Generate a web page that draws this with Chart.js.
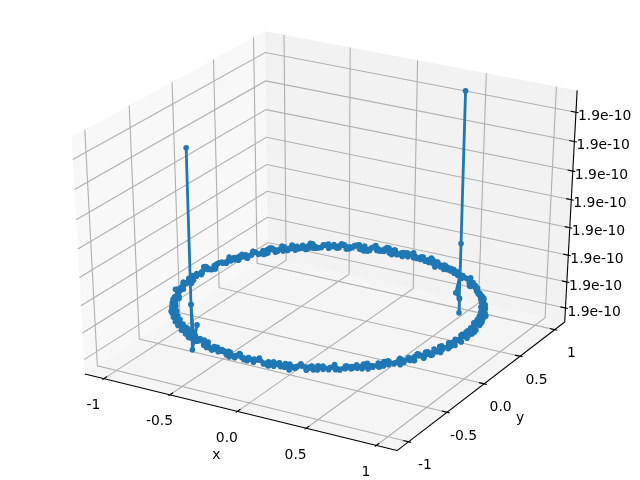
<!DOCTYPE html>
<html>
<head>
<meta charset="utf-8">
<style>
  html, body { margin: 0; padding: 0; background: #fff; }
  #c { display: block; }
</style>
<script src="https://cdn.jsdelivr.net/npm/chart.js@4"></script>
</head>
<body>
<canvas id="c" width="640" height="480"></canvas>
<script>
// series. z is relative, every tick prints as 1.9e-10
const seriesX = [
  .5,.48,.5,.5,.5,.5,.5,.5,
  .459,.400,.362,.303,.266,.201,.160,.098,.057,-.006,
  -.047,-.112,-.150,-.214,-.253,-.316,-.352,-.414,-.447,-.507,
  -.538,-.596,-.622,-.677,-.700,-.751,-.770,-.817,-.832,-.874,
  -.884,-.922,-.927,-.959,-.959,-.986,-.981,-1.003,-.992,-1.008,
  -.992,-1.003,-.981,-.985,-.959,-.958,-.927,-.921,-.884,-.873,
  -.832,-.816,-.770,-.750,-.700,-.676,-.622,-.595,-.538,
  -.5,-.5,-.47,-.49,-.5,-.5,-.5,-.5,
  -.507,-.447,-.414,-.351,-.316,-.252,-.215,-.149,-.112,-.045,.007,
  .045,.112,.149,.215,.252,.316,.351,.414,.447,.507,
  .538,.595,.622,.676,.700,.750,.770,.816,.832,.873,
  .884,.921,.927,.958,.959,.985,.981,1.002,.992,1.007,
  .992,1.002,.981,.985,.959,.958,.927,.921,.884,.873,
  .832,.816,.770,.750,.700,.676,.622,.595,.538,.5,
  .471,.437,.376,.341,.278,.240,.176,.138,.072,.032,
  -.020,-.085,-.125,-.190,-.227,-.291,-.328,-.391,-.425,-.485,
  -.516,-.574,-.603,-.657,-.682,-.733,-.754,-.801,-.818,-.861,
  -.873,-.912,-.918,-.952,-.953,-.981,-.977,-1.001,-.991,-1.012,
  -.994,-1.007,-.985,-.991,-.966,-.968,-.937,-.933,-.897,-.888,
  -.847,-.833,-.787,-.769,-.719,-.697,-.643,-.618,-.560,-.531,
  -.471,-.438,-.377,-.341,-.278,-.240,-.176,-.138,-.072,-.032,
  .032,.072,.138,.176,.240,.278,.341,.377,.438,.471,
  .531,.560,.618,.643,.697,.719,.769,.787,.833,.847,
  .888,.897,.933,.937,.968,.966,.991,.985,1.007,.994,
  1.012,.991,1.001,.977,.981,.953,.952,.918,.912,.873,
  .861,.818,.801,.754,.733,.682,.657,.603,.574,.516,.5,
  .477,.401,.345,.270,.212,.138,.071,0,-.071,-.138,
  -.212,-.271,-.345,-.401,-.478,-.525,-.597,-.632,-.702,-.732,
  -.804,-.821,-.876,-.883,-.944,-.940,-.980,-.970,-1.015,-.989,
  -1.014,-.980,-.997,-.960,-.970,-.910,-.908,-.856,-.844,-.776,
  -.752,-.688,-.656,-.577,-.538,-.462,-.411,-.339,-.282,-.204,
  -.141,-.069,0,.069,.140,.206,.282,.336,.413,.463,
  .536,.579,.656,.688,.750,.775,.844,.856,.910,.913,
  .970,.960,1.000,.977,1.009,.987,1.013,.970,.982,.941,
  .946,.884,.875,.819,.802,.732,.703,.637,.600,.520,
  .472,.436,.409,.372,.345,.306,.279,.239,.211,.171,.142,.102,.073,.032,.003,
  -.035,-.070,-.105,-.139,-.174,-.208,-.242,-.276,-.309,-.342,-.375,-.407,-.438,-.469,-.5,
  -.530,-.559,-.588,-.616,-.643,-.669,-.695,-.719,-.743,-.766,-.788,-.809,-.829,-.848,-.866,
  -.894,-.888,-.925,-.916,-.951,-.940,-.973,-.958,-.990,-.973,-1.002,-.983,-1.010,-.987,-1.012,
  -.987,-1.010,-.983,-1.002,-.973,-.990,-.958,-.973,-.940,-.951,-.916,-.925,-.888,-.894,-.856,
  -.858,-.819,-.819,-.779,-.775,-.734,-.728,-.687,-.677,-.635,-.623,-.581,-.566,-.524,-.506,
  -.469,-.438,-.407,-.375,-.342,-.309,-.276,-.242,-.208,-.174,-.139,-.105,-.070,-.035,0,
  .035,.070,.105,.139,.174,.208,.242,.276,.309,.342,.375,.407,.438,.469,.5,
  .530,.559,.588,.616,.643,.669,.695,.719,.743,.766,.788,.809,.829,.848,.866,
  .894,.888,.925,.916,.951,.940,.973,.958,.990,.973,1.002,.983,1.010,.987,1.012,
  .987,1.010,.983,1.002,.973,.990,.958,.973,.940,.951,.916,.925,.888,.894,.856,
  .858,.819,.819,.779,.775,.734,.728,.687,.677,.635,.623,.581,.566,.524
];
const seriesY = [
  .866,.85,.866,.866,.866,.866,.866,.866,
  .884,.921,.926,.958,.960,.985,.981,1.004,.992,1.007,
  .993,1.002,.981,.986,.959,.958,.927,.921,.884,.874,
  .832,.816,.770,.750,.700,.676,.622,.595,.538,.507,
  .447,.414,.351,.316,.252,.215,.149,.112,.045,.007,
  -.059,-.098,-.163,-.201,-.266,-.302,-.365,-.400,-.461,-.493,
  -.552,-.581,-.636,-.662,-.714,-.736,-.784,-.802,-.846,
  -.866,-.866,-.85,-.86,-.866,-.866,-.866,-.866,
  -.859,-.898,-.907,-.941,-.944,-.973,-.971,-.995,-.988,-1.006,-.993,
  -1.006,-.988,-.995,-.971,-.973,-.944,-.941,-.907,-.898,-.859,
  -.846,-.802,-.784,-.736,-.714,-.662,-.636,-.581,-.552,-.493,
  -.461,-.400,-.365,-.302,-.266,-.201,-.163,-.098,-.059,.007,
  .045,.112,.149,.215,.252,.316,.351,.414,.447,.507,
  .538,.595,.622,.676,.700,.750,.770,.816,.832,.866,
  .885,.896,.931,.936,.966,.964,.990,.984,1.006,.993,
  1.008,.990,.998,.975,.979,.951,.950,.916,.911,.871,
  .860,.816,.800,.752,.733,.680,.656,.601,.573,.514,
  .484,.424,.389,.326,.291,.226,.188,.124,.085,.020,
  -.020,-.085,-.124,-.188,-.226,-.291,-.326,-.389,-.424,-.484,
  -.514,-.573,-.601,-.656,-.680,-.733,-.752,-.800,-.816,-.860,
  -.871,-.911,-.916,-.950,-.951,-.979,-.975,-.998,-.990,-1.008,
  -.993,-1.006,-.984,-.990,-.964,-.966,-.936,-.931,-.896,-.885,
  -.845,-.831,-.786,-.767,-.717,-.695,-.642,-.616,-.559,-.529,
  -.470,-.437,-.375,-.341,-.277,-.240,-.174,-.138,-.070,-.032,
  .020,.085,.124,.188,.226,.291,.326,.389,.424,.484,
  .514,.573,.601,.656,.680,.733,.752,.800,.816,.860,.866,
  .899,.900,.949,.942,.998,.982,1.010,.983,1.013,.980,
  .998,.944,.948,.900,.901,.840,.821,.753,.726,.659,
  .628,.553,.506,.430,.382,.305,.244,.171,.107,.035,
  -.036,-.103,-.176,-.240,-.315,-.368,-.442,-.494,-.569,-.607,
  -.677,-.712,-.781,-.794,-.861,-.870,-.923,-.931,-.980,-.961,
  -1.002,-.986,-1.018,-.983,-1.000,-.968,-.980,-.923,-.928,-.872,
  -.858,-.797,-.781,-.712,-.676,-.606,-.569,-.494,-.443,-.369,
  -.315,-.240,-.177,-.103,-.035,.035,.107,.171,.245,.306,
  .383,.431,.505,.552,.627,.659,.728,.758,.825,.833,
  .880,.902,.911,.930,.937,.954,.958,.973,.975,.988,.987,.998,.995,1.002,.997,
  .999,.998,.995,.990,.985,.978,.970,.961,.951,.940,.927,.914,.899,.883,.866,
  .848,.829,.809,.788,.766,.743,.719,.695,.669,.643,.616,.588,.559,.530,.5,
  .475,.433,.412,.371,.346,.305,.279,.239,.210,.172,.141,.104,.071,.035,0,
  -.035,-.071,-.104,-.141,-.172,-.210,-.239,-.279,-.305,-.346,-.371,-.412,-.433,-.475,-.494,
  -.536,-.552,-.595,-.609,-.651,-.661,-.703,-.710,-.752,-.757,-.797,-.799,-.839,-.838,-.876,
  -.883,-.899,-.914,-.927,-.940,-.951,-.961,-.970,-.978,-.985,-.990,-.995,-.998,-.999,-1,
  -.999,-.998,-.995,-.990,-.985,-.978,-.970,-.961,-.951,-.940,-.927,-.914,-.899,-.883,-.866,
  -.848,-.829,-.809,-.788,-.766,-.743,-.719,-.695,-.669,-.643,-.616,-.588,-.559,-.530,-.5,
  -.475,-.433,-.412,-.371,-.346,-.305,-.279,-.239,-.210,-.172,-.141,-.104,-.071,-.035,0,
  .035,.071,.104,.141,.172,.210,.239,.279,.305,.346,.371,.412,.433,.475,.494,
  .536,.552,.595,.609,.651,.661,.703,.710,.752,.757,.797,.799,.839,.838
];
const seriesZ = [
  .145,.055,.025,-.05,.025,.305,1.05,.145,
  .148,.137,.155,.143,.151,.134,.157,.140,.153,.145,
  .136,.159,.142,.150,.133,.156,.144,.152,.138,.154,
  .141,.157,.135,.149,.146,.158,.137,.151,.143,.155,
  .134,.148,.156,.140,.152,.145,.137,.159,.142,.150,
  .135,.154,.147,.139,.157,.143,.133,.151,.156,.141,
  .148,.136,.158,.144,.153,.138,.150,.155,.142,
  .145,.075,.20,.12,.30,1.045,.30,.135,
  .152,.139,.157,.145,.134,.154,.142,.159,.137,.149,.146,
  .156,.140,.148,.135,.158,.143,.151,.133,.155,.147,
  .138,.153,.141,.157,.147,.135,.152,.144,.159,.139,
  .150,.136,.155,.142,.158,.145,.134,.153,.140,.148,
  .157,.137,.151,.143,.156,.135,.149,.154,.139,.146,
  .158,.141,.152,.136,.155,.144,.133,.150,.157,.145,
  .135,.156,.143,.132,.153,.161,.138,.149,.134,.157,
  .146,.131,.160,.141,.152,.136,.155,.133,.158,.144,
  .151,.137,.162,.140,.132,.154,.147,.159,.135,.150,
  .142,.156,.133,.161,.138,.148,.131,.153,.157,.140,
  .145,.134,.159,.151,.137,.155,.132,.143,.160,.149,
  .136,.158,.141,.154,.133,.162,.146,.138,.156,.131,
  .152,.140,.157,.135,.148,.161,.134,.143,.159,.150,
  .137,.155,.132,.158,.145,.141,.160,.133,.153,.139,
  .162,.136,.150,.156,.131,.144,.158,.138,.154,.142,
  .134,.160,.147,.132,.155,.140,.157,.149,.135,.161,
  .143,.153,.131,.159,.138,.151,.156,.133,.145,.158,
  .136,.162,.141,.148,.134,.154,.160,.137,.152,.132,.145,
  .134,.157,.146,.133,.155,.141,.159,.136,.151,.143,
  .158,.135,.149,.156,.138,.153,.132,.144,.158,.139,
  .152,.135,.156,.142,.133,.154,.148,.137,.157,.140,
  .150,.133,.155,.145,.159,.136,.152,.141,.134,.156,
  .147,.137,.158,.140,.153,.133,.151,.157,.139,.144,
  .135,.155,.143,.158,.136,.152,.132,.149,.157,.140,
  .154,.135,.146,.156,.138,.153,.134,.143,.158,.141,
  .150,.134,.156,.139,.154,.136,.147,.159,.137,.151,
  .133,.155,.142,.157,.135,.152,.145,.136,.156,.140,
  .154,.136,.153,.137,.155,.135,.153,.138,.154,.136,
  .155,.137,.153,.135,.154,.138,.155,.136,.153,.137,
  .154,.135,.155,.137,.153,.136,.154,.138,.155,.135,
  .153,.137,.154,.136,.155,.138,.153,.135,.154,.137,
  .155,.136,.153,.138,.154,.135,.155,.137,.153,.136,
  .154,.138,.155,.135,.153,.137,.154,.136,.155,.138,
  .153,.135,.154,.137,.155,.136,.153,.138,.154,.135,
  .155,.137,.153,.136,.154,.138,.155,.135,.153,.137,
  .154,.136,.155,.138,.153,.135,.154,.137,.155,.136,
  .153,.138,.154,.135,.155,.137,.153,.136,.154,.138,
  .155,.135,.153,.137,.154,.136,.155,.138,.153,.135,
  .154,.137,.155,.136,.153,.138,.154,.135,.155,.137,
  .153,.136,.154,.138,.155,.135,.153,.137,.154,.136,
  .155,.138,.153,.135,.154,.137,.155,.136,.153,.138,
  .154,.135,.155,.137,.153,.136,.154,.138,.155,.135,
  .153,.137,.154,.136,.155,.138,.153,.135,.154,.137,
  .155,.136,.153,.138,.154,.135,.155,.137,.153
];

const xyTicks = [-1, -0.5, 0, 0.5, 1];
const xyTickLabels = ["-1", "-0.5", "0.0", "0.5", "1"];
const zTicks = [0, .134, .27, .408, .547, .687, .83, .97];
const zTickLabels = ["1.9e-10", "1.9e-10", "1.9e-10", "1.9e-10", "1.9e-10", "1.9e-10", "1.9e-10", "1.9e-10"];

// limits and the slightly larger pane box around them
const xyLim = 1.1, zMin = -.05, zMax = 1.05;
const xyPane = xyLim + 2 * xyLim / 48;
const zPad = (zMax - zMin) / 48;
const zLo = zMin - zPad, zHi = zMax + zPad;

// same camera as a default 3d plot: elev 30, azim -60, dist 10, unit cube
const elev = 30 * Math.PI / 180, azim = -60 * Math.PI / 180, dist = 10;
const w = [Math.cos(elev) * Math.cos(azim), Math.cos(elev) * Math.sin(azim), Math.sin(elev)];
const u = [-Math.sin(azim), Math.cos(azim), 0];
const v = [w[1] * u[2] - w[2] * u[1], w[2] * u[0] - w[0] * u[2], w[0] * u[1] - w[1] * u[0]];

function project(x, y, z) {
  const p = [(x + xyLim) / (2 * xyLim) - .5, (y + xyLim) / (2 * xyLim) - .5, (z - zMin) / (zMax - zMin) - .5];
  const dot = a => a[0] * p[0] + a[1] * p[1] + a[2] * p[2];
  const d = dist - dot(w);
  return { x: dot(u) / d, y: dot(v) / d };
}

function line3d(pts, color, width, order) {
  return {
    data: pts.map(p => project(p[0], p[1], p[2])),
    showLine: true, borderColor: color, borderWidth: width,
    pointRadius: 0, fill: false, tension: 0, order: order
  };
}
function pane(pts, color) {
  return {
    data: pts.map(p => project(p[0], p[1], p[2])),
    showLine: true, borderWidth: 0, borderColor: "transparent",
    backgroundColor: color, pointRadius: 0, fill: "shape", tension: 0, order: 5
  };
}

const gridColor = "#b0b0b0";
const datasets = [];

datasets.push({
  data: seriesX.map((x, i) => project(x, seriesY[i], seriesZ[i])),
  showLine: true, borderColor: "#1f77b4", backgroundColor: "#1f77b4",
  borderWidth: 2.8, borderJoinStyle: "round", borderCapStyle: "round",
  pointRadius: 2.8, pointBorderWidth: 0, tension: 0, order: 0
});

datasets.push(pane([[-xyPane, -xyPane, zLo], [-xyPane, xyPane, zLo], [-xyPane, xyPane, zHi], [-xyPane, -xyPane, zHi], [-xyPane, -xyPane, zLo]], "rgba(242,242,242,0.5)"));
datasets.push(pane([[-xyPane, xyPane, zLo], [xyPane, xyPane, zLo], [xyPane, xyPane, zHi], [-xyPane, xyPane, zHi], [-xyPane, xyPane, zLo]], "rgba(230,230,230,0.5)"));
datasets.push(pane([[-xyPane, -xyPane, zLo], [xyPane, -xyPane, zLo], [xyPane, xyPane, zLo], [-xyPane, xyPane, zLo], [-xyPane, -xyPane, zLo]], "rgba(236,236,236,0.5)"));

xyTicks.forEach(t => {
  datasets.push(line3d([[t, -xyPane, zLo], [t, xyPane, zLo], [t, xyPane, zHi]], gridColor, 1.1, 2));
  datasets.push(line3d([[xyPane, t, zLo], [-xyPane, t, zLo], [-xyPane, t, zHi]], gridColor, 1.1, 2));
  // tick marks on the outer edges
  datasets.push(line3d([[t, -xyPane + .037, zLo], [t, -xyPane - .018, zLo]], "#000", 1.1, 1));
  datasets.push(line3d([[xyPane - .037, t, zLo], [xyPane + .018, t, zLo]], "#000", 1.1, 1));
});
zTicks.forEach(t => {
  datasets.push(line3d([[-xyPane, -xyPane, t], [-xyPane, xyPane, t], [xyPane, xyPane, t]], gridColor, 1.1, 2));
  datasets.push(line3d([[xyPane - .037, xyPane, t], [xyPane + .018, xyPane, t]], "#000", 1.1, 1));
});
datasets.push(line3d([[-xyPane, -xyPane, zLo], [xyPane, -xyPane, zLo]], "#000", 1.1, 1));
datasets.push(line3d([[xyPane, -xyPane, zLo], [xyPane, xyPane, zLo]], "#000", 1.1, 1));
datasets.push(line3d([[xyPane, xyPane, zLo], [xyPane, xyPane, zHi]], "#000", 1.1, 1));

const axisText = {
  id: "axisText",
  afterDraw(chart) {
    const ctx = chart.ctx, sx = chart.scales.x, sy = chart.scales.y;
    const put = (pt, dx, dy, text, align) => {
      ctx.textAlign = align;
      ctx.fillText(text, sx.getPixelForValue(pt.x) + dx, sy.getPixelForValue(pt.y) + dy);
    };
    ctx.save();
    ctx.fillStyle = "#000";
    ctx.font = "13.9px 'DejaVu Sans'";
    ctx.textBaseline = "middle";
    xyTicks.forEach((t, i) => {
      put(project(t, -xyPane, zLo), -10.5, 27, xyTickLabels[i], "center");
      put(project(xyPane, t, zLo), 16.5, 24, xyTickLabels[i], "center");
    });
    zTicks.forEach((t, i) => put(project(xyPane, xyPane, t), 2, 4, zTickLabels[i], "left"));
    put(project(0, -xyPane, zLo), -21, 44, "x", "center");
    put(project(xyPane, 0, zLo), 36, 35, "y", "center");
    ctx.restore();
  }
};

new Chart(document.getElementById("c"), {
  type: "scatter",
  data: { datasets: datasets },
  plugins: [axisText],
  options: {
    animation: false,
    responsive: false,
    events: [],
    layout: { padding: 0, autoPadding: false },
    plugins: { legend: { display: false }, tooltip: { enabled: false } },
    scales: {
      x: { type: "linear", display: false, min: -0.095, max: 0.09 },
      y: { type: "linear", display: false, min: -0.095, max: 0.09 }
    }
  }
});
</script>
</body>
</html>
